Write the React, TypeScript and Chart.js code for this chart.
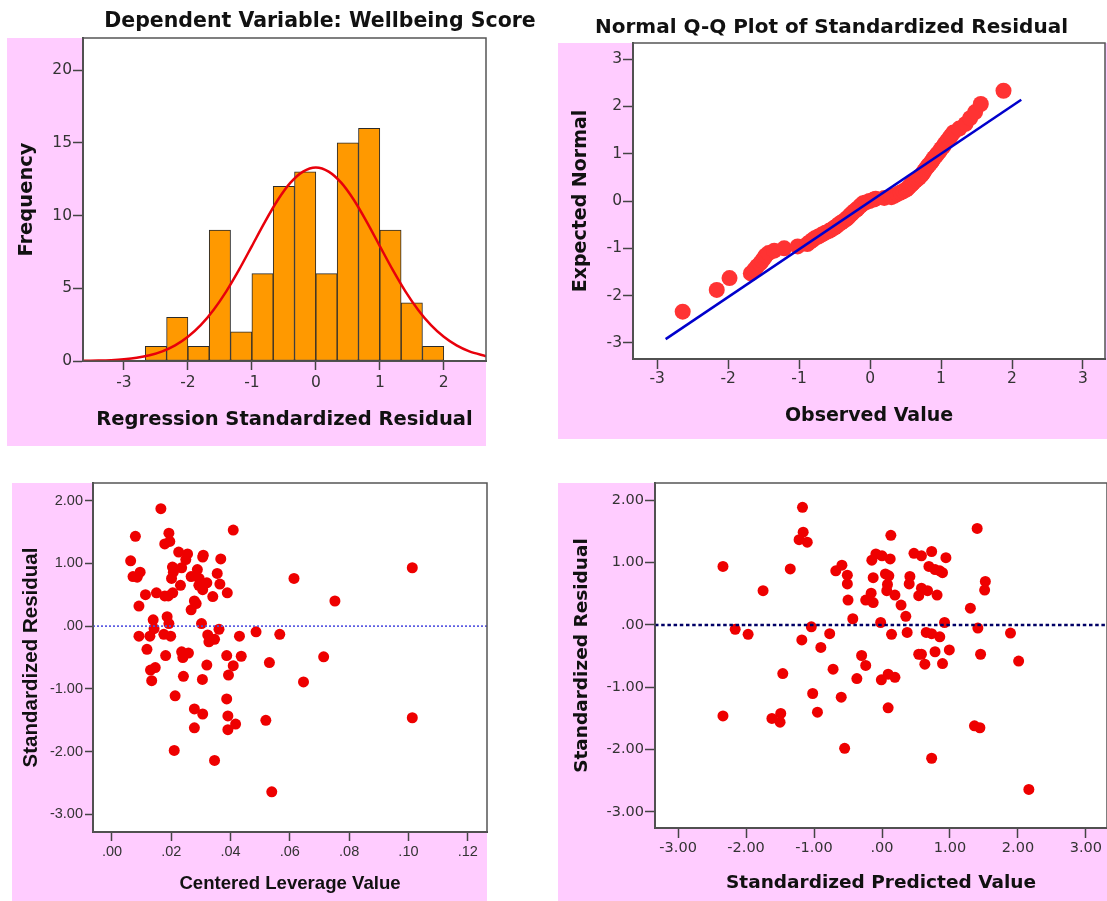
import React, { useEffect, useRef } from "react";
import { Chart, registerables } from "chart.js";

Chart.register(...registerables);

// ---------- Panel 1: histogram of regression standardized residuals ----------
const histBinCenters = [-2.5, -2.1667, -1.8333, -1.5, -1.1667, -0.8333, -0.5, -0.1667, 0.1667, 0.5, 0.8333, 1.1667, 1.5, 1.8333];
const histFrequencies = [1, 3, 1, 9, 2, 6, 12, 13, 6, 15, 16, 9, 4, 1];
const normalCurveX = [-3.64, -3.4, -3.2, -3.0, -2.8, -2.6, -2.4, -2.2, -2.0, -1.8, -1.6, -1.4, -1.2, -1.0, -0.8, -0.6, -0.4, -0.2, 0, 0.2, 0.4, 0.6, 0.8, 1.0, 1.2, 1.4, 1.6, 1.8, 2.0, 2.2, 2.4, 2.66];
const normalCurveY = [0.01, 0.03, 0.06, 0.12, 0.22, 0.39, 0.66, 1.07, 1.66, 2.46, 3.51, 4.79, 6.28, 7.9, 9.53, 11.03, 12.24, 13.02, 13.3, 13.02, 12.24, 11.03, 9.53, 7.9, 6.28, 4.79, 3.51, 2.46, 1.66, 1.07, 0.66, 0.33];
const histXTicks = [-3, -2, -1, 0, 1, 2];
const histXLabels = ["-3", "-2", "-1", "0", "1", "2"];
const histYTicks = [0, 5, 10, 15, 20];
const histYLabels = ["0", "5", "10", "15", "20"];

// ---------- Panel 2: normal Q-Q plot ----------
const qqObserved = [-2.64, -2.16, -1.98, -1.68, -1.63, -1.59, -1.55, -1.52, -1.49, -1.47, -1.43, -1.35, -1.21, -1.02, -0.885, -0.85, -0.815, -0.78, -0.73, -0.68, -0.63, -0.575, -0.54, -0.5, -0.47, -0.44, -0.41, -0.38, -0.34, -0.32, -0.3, -0.28, -0.26, -0.24, -0.215, -0.19, -0.17, -0.14, -0.12, -0.1, -0.06, -0.01, 0.05, 0.08, 0.2, 0.3, 0.34, 0.39, 0.43, 0.47, 0.51, 0.53, 0.55, 0.57, 0.59, 0.61, 0.64, 0.66, 0.69, 0.71, 0.73, 0.75, 0.76, 0.78, 0.8, 0.82, 0.845, 0.865, 0.885, 0.9, 0.93, 0.95, 0.98, 1.0, 1.03, 1.05, 1.08, 1.11, 1.14, 1.175, 1.255, 1.345, 1.41, 1.48, 1.56, 1.88];
const qqExpected = [-2.34, -1.88, -1.63, -1.53, -1.45, -1.38, -1.32, -1.26, -1.2, -1.15, -1.1, -1.05, -1.0, -0.96, -0.91, -0.87, -0.83, -0.79, -0.75, -0.71, -0.67, -0.63, -0.6, -0.56, -0.53, -0.49, -0.46, -0.43, -0.39, -0.36, -0.33, -0.3, -0.27, -0.24, -0.21, -0.18, -0.15, -0.11, -0.08, -0.05, -0.03, 0.0, 0.03, 0.05, 0.065, 0.08, 0.11, 0.15, 0.18, 0.21, 0.24, 0.27, 0.3, 0.33, 0.36, 0.39, 0.43, 0.46, 0.49, 0.53, 0.56, 0.6, 0.63, 0.67, 0.71, 0.75, 0.79, 0.83, 0.87, 0.91, 0.96, 1.0, 1.05, 1.1, 1.15, 1.2, 1.26, 1.32, 1.38, 1.45, 1.53, 1.63, 1.75, 1.88, 2.05, 2.33];
const qqLineX = [-2.88, 2.13];
const qqLineY = [-2.92, 2.14];
const qqTicks = [-3, -2, -1, 0, 1, 2, 3];
const qqLabels = ["-3", "-2", "-1", "0", "1", "2", "3"];

// ---------- Panel 3: centered leverage vs standardized residual ----------
const leverageValues = [0.0063, 0.0071, 0.0079, 0.0085, 0.0095, 0.0091, 0.0091, 0.0113, 0.0118, 0.0128, 0.013, 0.0134, 0.0139, 0.0142, 0.0146, 0.015, 0.0165, 0.0178, 0.0178, 0.0175, 0.0181, 0.0186, 0.019, 0.0192, 0.0195, 0.0192, 0.0198, 0.0204, 0.0201, 0.0205, 0.0207, 0.0213, 0.021, 0.0225, 0.0231, 0.0235, 0.0235, 0.0239, 0.0241, 0.0249, 0.0255, 0.0258, 0.0267, 0.0267, 0.0278, 0.0284, 0.0278, 0.0278, 0.0288, 0.0293, 0.0294, 0.0302, 0.0306, 0.0308, 0.0306, 0.0305, 0.0306, 0.032, 0.032, 0.0323, 0.0327, 0.034, 0.0346, 0.0346, 0.0355, 0.0361, 0.0364, 0.0367, 0.0389, 0.0387, 0.0393, 0.0387, 0.0391, 0.0391, 0.0409, 0.0409, 0.0417, 0.043, 0.0436, 0.0486, 0.0519, 0.0531, 0.0539, 0.0566, 0.0614, 0.0646, 0.0714, 0.0752, 0.1013, 0.1013];
const leverageResiduals = [1.04, 0.79, 1.43, 0.78, 0.86, 0.32, -0.16, 0.5, -0.37, -0.16, -0.7, -0.87, 0.1, -0.04, -0.66, 0.53, 1.87, 1.31, 0.48, -0.13, -0.47, 0.15, 0.48, 1.48, 1.35, 0.04, -0.16, 0.94, 0.76, 0.53, 0.86, -1.11, -1.98, 1.18, 0.65, 0.93, -0.41, -0.5, -0.8, 1.06, 1.15, -0.43, 0.79, 0.26, 0.4, 0.36, -1.32, -1.62, 0.9, 0.65, 0.76, 0.04, 1.1, 1.13, 0.58, -0.85, -1.4, 0.69, -0.62, -0.14, -0.25, 0.47, -0.21, -2.14, 0.84, -0.05, 0.67, 1.07, 0.53, -0.47, -0.78, -1.16, -1.43, -1.65, 1.53, -0.63, -1.56, -0.16, -0.48, -0.09, -1.5, -0.58, -2.64, -0.13, 0.76, -0.89, -0.49, 0.4, 0.93, -1.46];
const levXTicks = [0, 0.02, 0.04, 0.06, 0.08, 0.1, 0.12];
const levXLabels = [".00", ".02", ".04", ".06", ".08", ".10", ".12"];

// ---------- Panel 4: standardized predicted vs standardized residual ----------
const predictedValues = [-2.34, -2.34, -2.16, -1.97, -1.75, -1.62, -1.49, -1.5, -1.46, -1.35, -1.22, -1.17, -1.16, -1.1, -1.18, -1.04, -1.02, -0.95, -0.9, -0.77, -0.72, -0.68, -0.59, -0.51, -0.51, -0.5, -0.6, -0.55, -0.43, -0.37, -0.3, -0.24, -0.24, -0.16, -0.13, -0.15, -0.09, 0.0, -0.13, -0.02, -0.01, 0.13, 0.12, 0.05, 0.1, 0.08, 0.07, 0.19, 0.28, 0.35, 0.14, 0.37, 0.09, 0.19, 0.09, 0.41, 0.4, 0.47, 0.58, 0.54, 0.58, 0.67, 0.54, 0.58, 0.63, 0.65, 0.73, 0.69, 0.73, 0.78, 0.85, 0.89, 0.81, 0.78, 0.85, 0.89, 0.92, 0.94, 0.99, 0.73, 1.3, 1.4, 1.41, 1.45, 1.36, 1.44, 1.52, 1.51, 1.89, 2.01, 2.16];
const predictedResiduals = [0.94, -1.46, -0.07, -0.15, 0.55, -1.5, -1.42, -1.56, -0.78, 0.9, 1.37, 1.89, 1.49, 1.33, -0.24, -0.03, -1.1, -1.4, -0.36, -0.14, -0.71, 0.87, 0.96, 0.8, 0.66, 0.4, -1.16, -1.98, 0.1, -0.86, -0.49, -0.65, 0.4, 0.51, 0.36, 1.04, 1.14, 1.11, 0.76, 0.04, -0.88, 1.44, 1.06, 0.82, 0.79, 0.65, 0.55, 0.48, 0.32, 0.14, -0.15, -0.12, -0.79, -0.84, -1.33, 0.78, 0.66, 1.15, 1.11, 0.47, 0.59, 0.55, -0.47, -0.47, -0.63, -0.12, -0.14, 0.94, 1.18, 0.89, 0.87, 0.84, 0.48, -0.43, -0.19, -0.62, 0.04, 1.08, -0.4, -2.14, 0.27, 1.55, -0.05, -0.47, -1.62, -1.65, 0.7, 0.56, -0.13, -0.58, -2.64];
const predXTicks = [-3, -2, -1, 0, 1, 2, 3];
const predXLabels = ["-3.00", "-2.00", "-1.00", ".00", "1.00", "2.00", "3.00"];

// shared residual axis
const residTicks = [-3, -2, -1, 0, 1, 2];
const residLabels = ["-3.00", "-2.00", "-1.00", ".00", "1.00", "2.00"];
const zeroLineValue = 0;

// ---------- styling helpers ----------
const PINK = "#FFCCFF";
const AXIS_DARK = "#444444";
const TICK_TEXT = "#333333";

const panelDecor = {
  id: "panelDecor",
  beforeDraw(chart: any, _a: any, opts: any) {
    const { ctx, chartArea } = chart;
    const p = opts.pink;
    ctx.save();
    ctx.fillStyle = PINK;
    ctx.fillRect(p[0], p[1], p[2] - p[0], p[3] - p[1]);
    ctx.fillStyle = "#FFFFFF";
    ctx.fillRect(chartArea.left, chartArea.top, chartArea.right - chartArea.left, chartArea.bottom - chartArea.top);
    ctx.restore();
  },
  afterDraw(chart: any, _a: any, opts: any) {
    const { ctx, chartArea } = chart;
    ctx.save();
    ctx.strokeStyle = "#555555";
    ctx.lineWidth = 1.5;
    ctx.strokeRect(chartArea.left, chartArea.top, chartArea.right - chartArea.left, chartArea.bottom - chartArea.top);
    if (opts.title) {
      ctx.font = opts.title.font;
      ctx.fillStyle = "#111111";
      ctx.textAlign = "center";
      ctx.textBaseline = "alphabetic";
      ctx.fillText(opts.title.text, opts.title.x, opts.title.y);
    }
    ctx.restore();
  },
};

type AxisSpec = {
  dir: "x" | "y";
  min: number;
  max: number;
  ticks: number[];
  labels: string[];
  size: number;
  tickFont: any;
  tickPad: number;
  tickLen: number;
  title: string;
  titleFont: any;
  titlePad: number;
};

function makeAxis(a: AxisSpec) {
  return {
    type: "linear",
    position: a.dir === "x" ? "bottom" : "left",
    min: a.min,
    max: a.max,
    offset: false,
    afterBuildTicks: (scale: any) => {
      scale.ticks = a.ticks.map((v) => ({ value: v }));
    },
    afterFit: (scale: any) => {
      if (a.dir === "x") scale.height = a.size;
      else scale.width = a.size;
      scale.paddingLeft = 0;
      scale.paddingRight = 0;
      scale.paddingTop = 0;
      scale.paddingBottom = 0;
    },
    grid: {
      display: true,
      drawOnChartArea: false,
      drawTicks: true,
      offset: false,
      tickLength: a.tickLen,
      tickColor: AXIS_DARK,
      tickWidth: 1.5,
      color: AXIS_DARK,
    },
    border: { display: true, color: AXIS_DARK, width: 2 },
    ticks: {
      autoSkip: false,
      maxRotation: 0,
      minRotation: 0,
      padding: a.tickPad,
      color: TICK_TEXT,
      font: a.tickFont,
      callback: (_v: any, i: number) => a.labels[i],
    },
    title: {
      display: true,
      text: a.title,
      color: "#111111",
      font: a.titleFont,
      padding: a.dir === "x" ? { top: 0, bottom: a.titlePad } : { top: a.titlePad, bottom: 0 },
    },
  };
}

const xy = (xs: number[], ys: number[]) => xs.map((x, i) => ({ x, y: ys[i] }));

const dejavu = (size: number, bold = false) => ({ family: "DejaVu Sans", size, weight: bold ? "bold" : "normal" });
const liberation = (size: number, bold = false) => ({ family: "Liberation Sans", size, weight: bold ? "bold" : "normal" });

function baseOptions(pad: any, decor: any, scales: any) {
  return {
    animation: false,
    responsive: false,
    maintainAspectRatio: false,
    events: [],
    layout: { padding: pad, autoPadding: false },
    plugins: {
      legend: { display: false },
      tooltip: { enabled: false },
      title: { display: false },
      panelDecor: decor,
    },
    scales,
  };
}

function histConfig() {
  return {
    type: "bar",
    data: {
      datasets: [
        {
          type: "line",
          data: xy(normalCurveX, normalCurveY),
          borderColor: "#E8000B",
          borderWidth: 2.5,
          pointRadius: 0,
          tension: 0.3,
          fill: false,
        },
        {
          type: "bar",
          data: xy(histBinCenters, histFrequencies),
          backgroundColor: "#FF9900",
          borderColor: "#2A2A2A",
          borderWidth: 1,
          borderSkipped: false,
          barPercentage: 1,
          categoryPercentage: 1,
        },
      ],
    },
    options: baseOptions(
      { left: 7, top: 38, right: 64, bottom: 24 },
      {
        pink: [7, 38, 486, 446],
        title: { text: "Dependent Variable: Wellbeing Score", x: 320, y: 27, font: 'bold 20.5px "DejaVu Sans"' },
      },
      {
        x: makeAxis({ dir: "x", min: -3.64, max: 2.66, ticks: histXTicks, labels: histXLabels, size: 85, tickFont: dejavu(15.5), tickPad: 4, tickLen: 9, title: "Regression Standardized Residual", titleFont: dejavu(19.5, true), titlePad: 14 }),
        y: makeAxis({ dir: "y", min: 0, max: 22.2, ticks: histYTicks, labels: histYLabels, size: 76, tickFont: dejavu(15.5), tickPad: 1, tickLen: 10, title: "Frequency", titleFont: dejavu(19.5, true), titlePad: 8 }),
      }
    ),
  };
}

function qqConfig() {
  return {
    type: "scatter",
    data: {
      datasets: [
        {
          type: "line",
          data: xy(qqLineX, qqLineY),
          borderColor: "#0000CC",
          borderWidth: 2.5,
          pointRadius: 0,
          fill: false,
        },
        {
          type: "scatter",
          data: xy(qqObserved, qqExpected),
          backgroundColor: "#FF3333",
          borderWidth: 0,
          pointRadius: 8,
        },
      ],
    },
    options: baseOptions(
      { left: 8, top: 43, right: 2, bottom: 31 },
      {
        pink: [8, 43, 557, 439],
        title: { text: "Normal Q-Q Plot of Standardized Residual", x: 281.5, y: 32.5, font: 'bold 20px "DejaVu Sans"' },
      },
      {
        x: makeAxis({ dir: "x", min: -3.34, max: 3.31, ticks: qqTicks, labels: qqLabels, size: 80, tickFont: dejavu(15.5), tickPad: 1, tickLen: 10, title: "Observed Value", titleFont: dejavu(19, true), titlePad: 11.5 }),
        y: makeAxis({ dir: "y", min: -3.34, max: 3.34, ticks: qqTicks, labels: qqLabels, size: 75, tickFont: dejavu(15.5), tickPad: 1, tickLen: 10, title: "Expected Normal", titleFont: dejavu(19, true), titlePad: 12 }),
      }
    ),
  };
}

function leverageConfig() {
  return {
    type: "scatter",
    data: {
      datasets: [
        {
          type: "line",
          data: [
            { x: -0.0064, y: zeroLineValue },
            { x: 0.1265, y: zeroLineValue },
          ],
          borderColor: "#4F4FE0",
          borderWidth: 1.6,
          borderDash: [2, 2],
          pointRadius: 0,
          fill: false,
        },
        {
          type: "scatter",
          data: xy(leverageValues, leverageResiduals),
          backgroundColor: "#EE0000",
          borderWidth: 0,
          pointRadius: 5.5,
        },
      ],
    },
    options: baseOptions(
      { left: 12, top: 13, right: 63, bottom: 0 },
      { pink: [12, 13, 487, 431] },
      {
        x: makeAxis({ dir: "x", min: -0.0064, max: 0.1265, ticks: levXTicks, labels: levXLabels, size: 69, tickFont: liberation(14.5), tickPad: 2, tickLen: 9, title: "Centered Leverage Value", titleFont: liberation(18.6, true), titlePad: 5.8 }),
        y: makeAxis({ dir: "y", min: -3.28, max: 2.28, ticks: residTicks, labels: residLabels, size: 81, tickFont: liberation(14.5), tickPad: 2, tickLen: 8, title: "Standardized Residual", titleFont: liberation(20.5, true), titlePad: 6.7 }),
      }
    ),
  };
}

function predictedConfig() {
  return {
    type: "scatter",
    data: {
      datasets: [
        {
          type: "line",
          data: [
            { x: -3.34, y: zeroLineValue },
            { x: 3.31, y: zeroLineValue },
          ],
          borderColor: "#000066",
          borderWidth: 2.6,
          borderDash: [3.5, 2.7],
          pointRadius: 0,
          fill: false,
        },
        {
          type: "scatter",
          data: xy(predictedValues, predictedResiduals),
          backgroundColor: "#EE0000",
          borderWidth: 0,
          pointRadius: 5.5,
        },
      ],
    },
    options: baseOptions(
      { left: 8, top: 13, right: 0, bottom: 0 },
      { pink: [8, 13, 557, 431] },
      {
        x: makeAxis({ dir: "x", min: -3.34, max: 3.31, ticks: predXTicks, labels: predXLabels, size: 73, tickFont: dejavu(14.5), tickPad: 2, tickLen: 10, title: "Standardized Predicted Value", titleFont: dejavu(18.5, true), titlePad: 6.9 }),
        y: makeAxis({ dir: "y", min: -3.26, max: 2.28, ticks: residTicks, labels: residLabels, size: 97, tickFont: dejavu(14.5), tickPad: 1, tickLen: 10, title: "Standardized Residual", titleFont: dejavu(18.5, true), titlePad: 12.9 }),
      }
    ),
  };
}

function Panel(props: { left: number; top: number; width: number; height: number; make: () => any }) {
  const ref = useRef<HTMLCanvasElement | null>(null);
  useEffect(() => {
    if (!ref.current) return;
    const cfg = props.make();
    const chart = new Chart(ref.current, { ...cfg, plugins: [panelDecor] } as any);
    return () => chart.destroy();
  }, []);
  return (
    <div style={{ position: "absolute", left: props.left, top: props.top, width: props.width, height: props.height }}>
      <canvas ref={ref} width={props.width} height={props.height} style={{ display: "block", width: props.width, height: props.height }} />
    </div>
  );
}

export default function App() {
  return (
    <div style={{ position: "absolute", left: 0, top: 0, width: 1107, height: 901, background: "#FFFFFF", overflow: "hidden" }}>
      <Panel left={0} top={0} width={550} height={470} make={histConfig} />
      <Panel left={550} top={0} width={557} height={470} make={qqConfig} />
      <Panel left={0} top={470} width={550} height={431} make={leverageConfig} />
      <Panel left={550} top={470} width={557} height={431} make={predictedConfig} />
    </div>
  );
}
